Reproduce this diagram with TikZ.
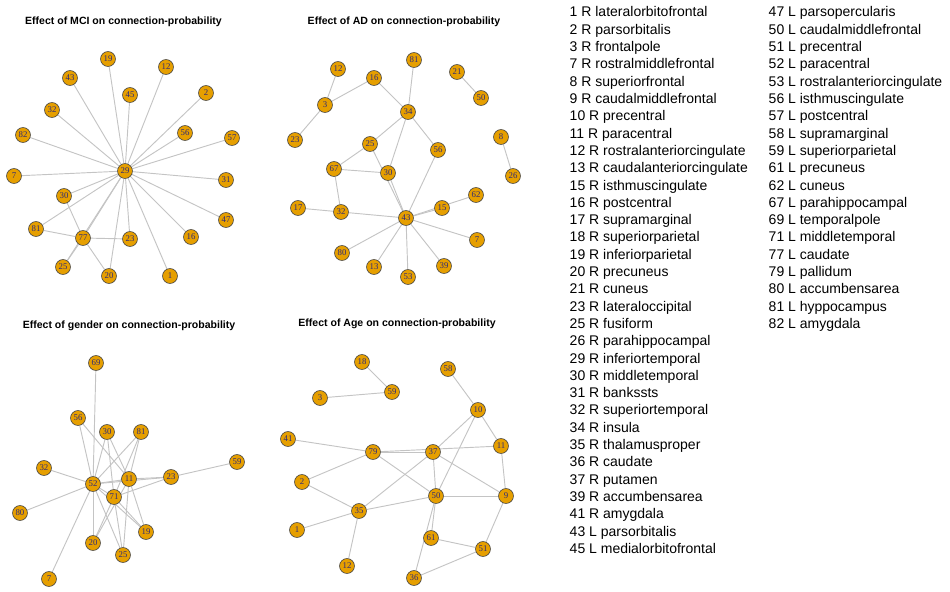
\documentclass[tikz,border=0pt]{standalone}
\usepackage{fontspec}
\setmainfont{Liberation Sans}
\newfontfamily\labfont{Liberation Serif}
\usetikzlibrary{backgrounds}
\definecolor{roifill}{HTML}{E69F00}
\definecolor{roitext}{HTML}{2E2A78}
\definecolor{edgegray}{HTML}{C4C4C4}

\begin{document}
\begin{tikzpicture}[x=0.75pt,y=-0.75pt,
  roi/.style={circle,draw=black!75,line width=0.45pt,fill=roifill,inner sep=0pt,minimum size=11.2pt,font=\labfont\fontsize{6.6}{6.6}\selectfont,text=roitext},
  link/.style={draw=edgegray,line width=0.7pt},
  ttl/.style={font=\bfseries\fontsize{7.9}{9}\selectfont},
  leg/.style={anchor=base west,font=\fontsize{10.5}{12}\selectfont}]
  \useasboundingbox (0,0) rectangle (950,592);
  \node[ttl] (t-mci) at (123.5,22){Effect of MCI on connection-probability};
  \node[ttl] (t-ad) at (404,22){Effect of AD on connection-probability};
  \node[ttl] (t-gender) at (129,326){Effect of gender on connection-probability};
  \node[ttl] (t-age) at (397,324){Effect of Age on connection-probability};
  \foreach \n/\x/\y in {19/108/59,12/166/67,43/70/78,45/130/95,2/206/93,32/52/110,82/23/135,56/185/133,57/232/138,29/125/171,7/14/176,31/226/180,30/64/196,47/226/220,81/36/229,77/83/238,23/130/239,16/191/237,25/63/267,20/109/276,1/170/276}
    \node[roi] (m\n) at (\x,\y){\n};
  \foreach \n/\x/\y in {81/414/60,12/338/69,21/457/72,16/374/78,50/481/98,3/325/105,34/408/112,8/501/137,23/295/140,25/370/144,56/438/150,67/334/169,30/388/173,26/513/176,62/476/195,17/298/208,15/442/208,32/341/212,43/406/218,7/477/240,80/342/253,13/374/267,39/444/266,53/408/277}
    \node[roi] (a\n) at (\x,\y){\n};
  \foreach \n/\x/\y in {69/96/363,56/78/418,30/107/432,81/141/432,59/237/462,32/44/468,11/129/479,23/171/477,52/93/484,71/114/497,80/20/513,19/146/532,20/93/543,25/123/555,7/49/579}
    \node[roi] (g\n) at (\x,\y){\n};
  \foreach \n/\x/\y in {18/362/362,58/448/369,59/392/392,3/320/398,10/478/410,41/288/439,11/501/446,79/373/452,37/433/452,2/302/482,9/506/496,50/436/496,35/359/511,1/297/530,61/431/538,51/483/549,12/347/566,36/414/578}
    \node[roi] (y\n) at (\x,\y){\n};
  \begin{scope}[on background layer]
    \foreach \a/\b in {29/19,29/12,29/43,29/45,29/2,29/32,29/82,29/56,29/57,29/7,29/31,29/30,29/47,29/81,29/77,29/25,29/23,29/16,29/20,29/1,77/30,77/81,77/23,77/20,77/25}
      \draw[link] (m\a) -- (m\b);
    \foreach \a/\b in {3/12,3/16,3/23,34/16,34/81,34/25,34/30,34/56,25/67,25/43,67/30,67/32,30/43,56/43,32/17,32/43,43/15,43/62,43/7,43/80,43/13,43/53,43/39,21/50,8/26}
      \draw[link] (a\a) -- (a\b);
    \foreach \a/\b in {52/69,52/56,11/56,52/30,71/30,11/30,52/81,71/81,11/81,52/32,52/80,52/7,52/11,52/23,11/23,71/23,23/59,52/20,52/25,52/19,52/71,71/20,11/20,71/25,11/25,11/19,71/19}
      \draw[link] (g\a) -- (g\b);
    \foreach \a/\b in {59/18,59/3,10/58,10/37,10/50,10/11,79/41,79/37,79/11,79/50,79/2,35/2,35/37,35/50,35/1,35/12,37/50,37/9,50/9,50/61,50/36,11/9,9/51,61/51,36/51}
      \draw[link] (y\a) -- (y\b);
  \end{scope}
  \foreach \t [count=\i from 0] in {1 R lateralorbitofrontal,2 R parsorbitalis,3 R frontalpole,7 R rostralmiddlefrontal,8 R superiorfrontal,9 R caudalmiddlefrontal,10 R precentral,11 R paracentral,12 R rostralanteriorcingulate,13 R caudalanteriorcingulate,15 R isthmuscingulate,16 R postcentral,17 R supramarginal,18 R superiorparietal,19 R inferiorparietal,20 R precuneus,21 R cuneus,23 R lateraloccipital,25 R fusiform,26 R parahippocampal,29 R inferiortemporal,30 R middletemporal,31 R bankssts,32 R superiortemporal,34 R insula,35 R thalamusproper,36 R caudate,37 R putamen,39 R accumbensarea,41 R amygdala,43 L parsorbitalis,45 L medialorbitofrontal}
    \node[leg] (key1-\i) at (565,{17+17.3*\i}){\t};
  \foreach \t [count=\i from 0] in {47 L parsopercularis,50 L caudalmiddlefrontal,51 L precentral,52 L paracentral,53 L rostralanteriorcingulate,56 L isthmuscingulate,57 L postcentral,58 L supramarginal,59 L superiorparietal,61 L precuneus,62 L cuneus,67 L parahippocampal,69 L temporalpole,71 L middletemporal,77 L caudate,79 L pallidum,80 L accumbensarea,81 L hyppocampus,82 L amygdala}
    \node[leg] (key2-\i) at (764,{17+17.3*\i}){\t};
\end{tikzpicture}
\end{document}
